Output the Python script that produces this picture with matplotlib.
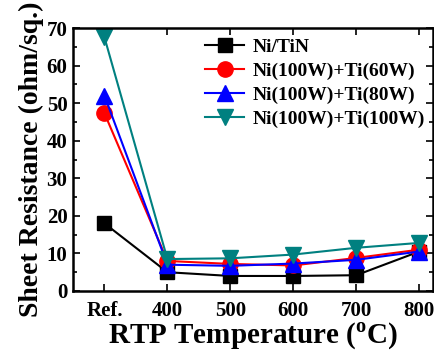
import matplotlib
matplotlib.use("Agg")
import matplotlib.pyplot as plt
from matplotlib.ticker import MultipleLocator

plt.rcParams["font.family"] = ["Liberation Serif", "DejaVu Serif"]
plt.rcParams["font.weight"] = "bold"
plt.rcParams["mathtext.fontset"] = "custom"
plt.rcParams["mathtext.rm"] = "Liberation Serif:bold"
plt.rcParams["mathtext.bf"] = "Liberation Serif:bold"

# 数据
categories = ["Ref.", "400", "500", "600", "700", "800"]
ni_tin = [18.0, 5.0, 4.0, 4.0, 4.2, 10.5]
ti60 = [47.3, 8.0, 7.2, 6.8, 8.8, 11.0]
ti80 = [52.0, 7.0, 6.7, 7.3, 8.3, 10.5]
ti100 = [67.5, 8.5, 8.7, 9.7, 11.5, 12.8]

x = list(range(len(categories)))

fig = plt.figure(figsize=(4.34, 3.54), dpi=100)
ax = fig.add_axes([73 / 434, 1 - 291 / 354, 360 / 434, 263 / 354])

ax.plot(x, ni_tin, "-s", color="black", lw=1.5, ms=10, label="Ni/TiN")
ax.plot(x, ti60, "-o", color="red", lw=1.5, ms=11, label="Ni(100W)+Ti(60W)")
ax.plot(x, ti80, "-^", color="blue", lw=1.5, ms=11, label="Ni(100W)+Ti(80W)")
ax.plot(x, ti100, "-v", color="#008080", lw=1.5, ms=11, label="Ni(100W)+Ti(100W)")

ax.set_xlim(-0.5, 5.22)
ax.set_ylim(0, 70)
ax.set_xticks(x)
ax.set_xticklabels(categories)
ax.yaxis.set_major_locator(MultipleLocator(10))
ax.yaxis.set_minor_locator(MultipleLocator(5))
ax.tick_params(which="both", direction="in", top=True, right=True, labelsize=15, width=1.2)
ax.tick_params(which="major", length=5)
ax.tick_params(which="minor", length=3)
ax.tick_params(axis="x", pad=7)
ax.tick_params(axis="y", pad=4)
for s in ax.spines.values():
    s.set_linewidth(1.8)

ax.set_xlabel(r"RTP Temperature ($^{\mathrm{o}}$C)", fontsize=21, fontweight="bold", labelpad=0)
ax.set_ylabel("Sheet Resistance (ohm/sq.)", fontsize=20, fontweight="bold", labelpad=2)

ax.legend(loc="upper right", frameon=False, fontsize=14, handlelength=2.0,
          handletextpad=0.45, labelspacing=0.33, borderaxespad=0.0,
          bbox_to_anchor=(1.0, 0.99))

fig.savefig("out.png", dpi=100)
